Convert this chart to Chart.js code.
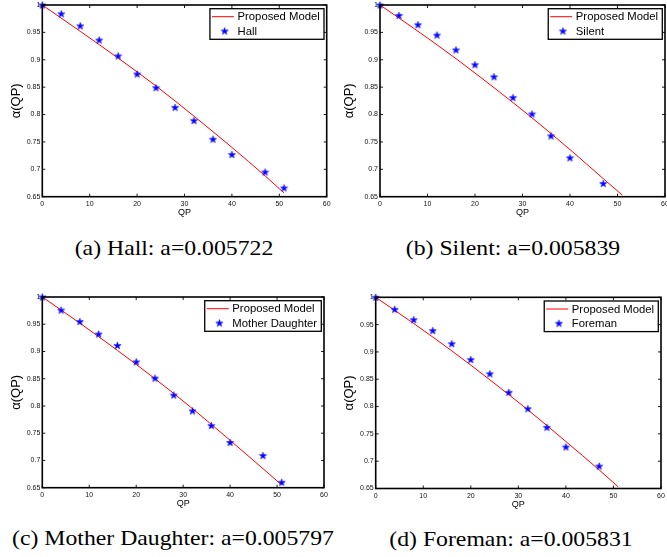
<!DOCTYPE html>
<html><head><meta charset="utf-8">
<script src="https://cdn.jsdelivr.net/npm/chart.js@4.4.1/dist/chart.umd.min.js"></script>
<style>
html,body{margin:0;padding:0;background:#fff;overflow:hidden;width:667px;height:557px;position:relative}
canvas{position:absolute}
.cap{position:absolute;width:300px;font-family:"Liberation Serif","Times New Roman",Times,serif;font-size:21px;line-height:21px;white-space:nowrap;text-align:center;color:#000;transform:scaleX(1.13);transform-origin:50% 50%}
</style></head><body>
<canvas id="ca"></canvas><canvas id="cb"></canvas><canvas id="cc"></canvas><canvas id="cd"></canvas>
<div class="cap" id="tA"></div><div class="cap" id="tB"></div><div class="cap" id="tC"></div><div class="cap" id="tD"></div>
<script>
// ---- data ----
const xTicks = [0, 10, 20, 30, 40, 50, 60];
const yTicks = [0.65, 0.7, 0.75, 0.8, 0.85, 0.9, 0.95, 1];
const yTickLabels = ['0.65', '0.7', '0.75', '0.8', '0.85', '0.9', '0.95', '1'];

const hallQP = [0, 4, 8, 12, 16, 20, 24, 28, 32, 36, 40, 47, 51];
const hallAlpha = [1.000, 0.984, 0.962, 0.936, 0.907, 0.874, 0.849, 0.813, 0.789, 0.755, 0.727, 0.695, 0.666];
const silentQP = [0, 4, 8, 12, 16, 20, 24, 28, 32, 36, 40, 47];
const silentAlpha = [1.000, 0.981, 0.964, 0.945, 0.918, 0.891, 0.869, 0.831, 0.801, 0.761, 0.721, 0.674];
const motherQP = [0, 4, 8, 12, 16, 20, 24, 28, 32, 36, 40, 47, 51];
const motherAlpha = [1.000, 0.976, 0.955, 0.932, 0.911, 0.881, 0.851, 0.820, 0.791, 0.764, 0.733, 0.709, 0.660];
const foremanQP = [0, 4, 8, 12, 16, 20, 24, 28, 32, 36, 40, 47];
const foremanAlpha = [1.000, 0.978, 0.959, 0.939, 0.915, 0.886, 0.860, 0.826, 0.796, 0.762, 0.726, 0.691];

const modelQP = [0, 8, 16, 24, 32, 40, 47, 51];
const modelHall = [1.000, 0.952, 0.903, 0.852, 0.797, 0.740, 0.688, 0.657];
const modelSilent = [1.000, 0.952, 0.902, 0.849, 0.794, 0.736, 0.683, 0.653];
const modelMother = [1.000, 0.952, 0.902, 0.850, 0.795, 0.737, 0.685, 0.655];
const modelForeman = [1.000, 0.952, 0.902, 0.849, 0.794, 0.736, 0.684, 0.653];

const seriesNames = ['Hall', 'Silent', 'Mother Daughter', 'Foreman'];
const modelName = 'Proposed Model';
const captions = ['(a) Hall: a=0.005722', '(b) Silent: a=0.005839', '(c) Mother Daughter: a=0.005797', '(d) Foreman: a=0.005831'];
const xTitle = 'QP';
const yTitle = '\u03B1(QP)';

// ---- styling ----
const SANS = '"Liberation Sans", Arial, Helvetica, sans-serif';
Chart.defaults.font.family = SANS;

function makeStar() {
  const c = document.createElement('canvas');
  c.width = 9; c.height = 9;
  const g = c.getContext('2d');
  const cx = 4.5, cy = 4.8, R = 3.8, r = R * 0.382;
  g.beginPath();
  for (let i = 0; i < 10; i++) {
    const ang = -Math.PI / 2 + i * Math.PI / 5;
    const rad = i % 2 === 0 ? R : r;
    const px = cx + rad * Math.cos(ang), py = cy + rad * Math.sin(ang);
    if (i === 0) g.moveTo(px, py); else g.lineTo(px, py);
  }
  g.closePath();
  g.fillStyle = '#0000ff'; g.fill();
  g.strokeStyle = '#0000ff'; g.lineWidth = 0.6; g.stroke();
  return c;
}
const STAR = makeStar();

const boxPlugin = {
  id: 'matlabBox',
  afterDatasetsDraw(chart, args, opts) {
    const { ctx, chartArea: a, scales: { x, y } } = chart;
    ctx.save();
    ctx.strokeStyle = '#000';
    ctx.lineWidth = 0.9;
    ctx.beginPath();
    for (const v of xTicks) {
      const px = x.getPixelForValue(v);
      ctx.moveTo(px, a.bottom); ctx.lineTo(px, a.bottom - 3);
      ctx.moveTo(px, a.top); ctx.lineTo(px, a.top + 3);
    }
    for (const v of yTicks) {
      const py = y.getPixelForValue(v);
      ctx.moveTo(a.left, py); ctx.lineTo(a.left + 3, py);
      ctx.moveTo(a.right, py); ctx.lineTo(a.right - 3, py);
    }
    ctx.stroke();
    ctx.lineWidth = 1.6;
    ctx.strokeRect(a.left, a.top, a.right - a.left, a.bottom - a.top);

    // legend
    ctx.font = '11.3px ' + SANS;
    const tw = Math.max(ctx.measureText(modelName).width, ctx.measureText(opts.label).width);
    const bw = 27.6 + tw + 4.2, bh = 30.6;
    const bx = a.right - 2.7 - bw, by = a.top + 3.7;
    ctx.fillStyle = '#fff';
    ctx.fillRect(bx, by, bw, bh);
    ctx.lineWidth = 1.3;
    ctx.strokeRect(bx, by, bw, bh);
    const r1 = by + 8, r2 = by + 22.3;
    ctx.strokeStyle = '#ff0000'; ctx.lineWidth = 1;
    ctx.beginPath(); ctx.moveTo(bx + 2, r1); ctx.lineTo(bx + 24, r1); ctx.stroke();
    ctx.drawImage(STAR, bx + 14.7 - STAR.width / 2, r2 - STAR.height / 2);
    ctx.fillStyle = '#000'; ctx.textBaseline = 'middle'; ctx.textAlign = 'left';
    ctx.fillText(modelName, bx + 27.6, r1 + 0.5);
    ctx.fillText(opts.label, bx + 27.6, r2 + 0.5);
    ctx.restore();
  }
};

function makeChart(id, cx, L, R, T, B, clipRight, qp, vals, model, label) {
  const canvas = document.getElementById(id);
  const ct = Math.round(T - 5);
  const w = Math.ceil((clipRight || (R + 8)) - cx);
  const h = Math.ceil(B + 24 - ct);
  canvas.width = w; canvas.height = h;
  canvas.style.width = w + 'px'; canvas.style.height = h + 'px';
  canvas.style.left = cx + 'px'; canvas.style.top = ct + 'px';
  const xH = h - (B - ct);
  const yW = L - cx;
  const xTitlePadBottom = h - (B - ct + 16) - 5.4;
  new Chart(canvas, {
    type: 'scatter',
    data: {
      datasets: [
        { label: label, data: qp.map((q, i) => ({ x: q, y: vals[i] })), pointStyle: STAR,
          backgroundColor: '#0000ff', borderColor: '#0000ff', showLine: false, clip: false },
        { type: 'line', label: modelName, data: modelQP.map((q, i) => ({ x: q, y: model[i] })),
          borderColor: '#ff0000', borderWidth: 1, pointRadius: 0, fill: false,
          cubicInterpolationMode: 'monotone' }
      ]
    },
    options: {
      responsive: false, animation: false, devicePixelRatio: 1,
      layout: { padding: { left: 0, top: T - ct, right: w - (R - cx), bottom: 0 } },
      plugins: { legend: { display: false }, tooltip: { enabled: false }, matlabBox: { label: label } },
      scales: {
        x: {
          type: 'linear', min: 0, max: 60,
          afterBuildTicks: s => { s.ticks = xTicks.map(v => ({ value: v })); },
          grid: { display: false, drawTicks: false }, border: { display: false },
          ticks: { font: { size: 7 }, color: '#111', padding: 3, maxRotation: 0, autoSkip: false },
          title: { display: true, text: xTitle, font: { size: 9 }, color: '#000', padding: { top: 0, bottom: xTitlePadBottom } },
          afterFit: s => { s.height = xH; s.paddingLeft = 0; s.paddingRight = 0; }
        },
        y: {
          type: 'linear', min: 0.65, max: 1,
          afterBuildTicks: s => { s.ticks = yTicks.map(v => ({ value: v })); },
          grid: { display: false, drawTicks: false }, border: { display: false },
          ticks: { font: { size: 7 }, color: '#111', padding: 2, autoSkip: false,
                   callback: (v) => { const i = yTicks.findIndex(t => Math.abs(t - v) < 1e-9); return i >= 0 ? yTickLabels[i] : ''; } },
          title: { display: true, text: yTitle, font: { size: 13 }, color: '#000', padding: { top: 16 - 7.8, bottom: 0 } },
          afterFit: s => { s.width = yW; s.paddingTop = 0; s.paddingBottom = 0; }
        }
      }
    },
    plugins: [boxPlugin]
  });
}

makeChart('ca', 0, 42.3, 326.7, 5, 196.7, 333, hallQP, hallAlpha, modelHall, seriesNames[0]);
makeChart('cb', 333, 380, 665, 5, 196.7, 673, silentQP, silentAlpha, modelSilent, seriesNames[1]);
makeChart('cc', 0, 42.3, 326.7, 296.7, 487.7, 329, motherQP, motherAlpha, modelMother, seriesNames[2]);
makeChart('cd', 333, 375.7, 661, 297.3, 488.5, 667, foremanQP, foremanAlpha, modelForeman, seriesNames[3]);

const capPos = [[174, 256], [512.5, 256], [173, 546], [510.5, 546.5]];
['tA', 'tB', 'tC', 'tD'].forEach((id, i) => {
  const d = document.getElementById(id);
  d.textContent = captions[i];
  d.style.left = (capPos[i][0] - 150) + 'px';
  d.style.top = (capPos[i][1] - 17.6) + 'px';
});
</script>
</body></html>
